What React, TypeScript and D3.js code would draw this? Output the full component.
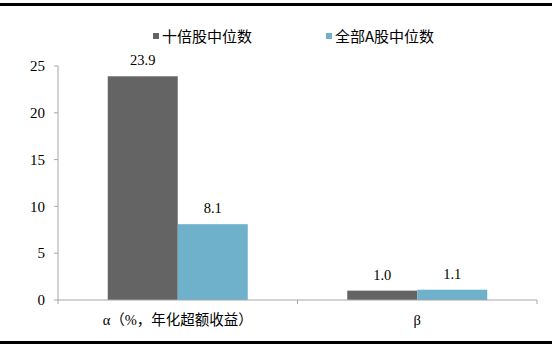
import * as d3 from "d3"

const categories = ["α（%，年化超额收益）", "β"]
const seriesNames = ["十倍股中位数", "全部A股中位数"]
const tenBagger = [23.9, 1.0]
const allA = [8.1, 1.1]
const yTicks = [0, 5, 10, 15, 20, 25]

const COLORS = ["#646464", "#6fb0cb"]
const AXIS = "#a6a6a6"
const SERIF = "Liberation Serif, DejaVu Serif, Noto Sans CJK SC, serif"
const CJK = "Noto Sans CJK SC, sans-serif"

export default function App() {
  const W = 554, H = 351
  const m = { left: 58, right: 17, top: 66, bottom: 51 }
  const x = d3.scaleBand<string>().domain(categories).range([m.left, W - m.right])
  const inner = d3.scaleBand<number>().domain([0, 1]).range([0, 140])
  const y = d3.scaleLinear().domain([0, 25]).range([H - m.bottom, m.top])
  const series = [tenBagger, allA]
  const y0 = y(0)

  return (
    <svg width={W} height={H} style={{ position: "absolute", left: 0, top: 0, background: "#fff" }}>
      <rect x={0} y={3} width={552} height={3} fill="#000" />
      <rect x={0} y={341} width={552} height={3} fill="#000" />

      {/* legend */}
      {seriesNames.map((s, i) => {
        const lx = i === 0 ? 153 : 326
        return (
          <g key={s}>
            <rect x={lx} y={33} width={6} height={6} fill={COLORS[i]} />
            <text x={lx + 9} y={41.5} fontSize={15} style={{ fontFamily: CJK }} fill="#000">{s}</text>
          </g>
        )
      })}

      {/* y axis */}
      <line x1={m.left} x2={m.left} y1={y(25)} y2={y0} stroke={AXIS} />
      {yTicks.map(t => (
        <g key={t}>
          <line x1={m.left - 4} x2={m.left} y1={y(t)} y2={y(t)} stroke={AXIS} />
          <text x={45} y={y(t)} dy="0.35em" textAnchor="end" fontSize={15} style={{ fontFamily: SERIF }} fill="#000">{t}</text>
        </g>
      ))}

      {/* bars */}
      {categories.map((c, ci) => {
        const bx = x(c)! + (x.bandwidth() - 140) / 2
        return (
          <g key={c}>
            {series.map((vals, si) => {
              const v = vals[ci]
              const left = bx + inner(si)!
              return (
                <g key={si}>
                  <rect x={left} y={y(v)} width={inner.bandwidth()} height={y0 - y(v)} fill={COLORS[si]} />
                  <text x={left + inner.bandwidth() / 2} y={y(v) - 11} textAnchor="middle" fontSize={14.5} style={{ fontFamily: SERIF }} fill="#000">{v.toFixed(1)}</text>
                </g>
              )
            })}
            <text x={x(c)! + x.bandwidth() / 2} y={325} textAnchor="middle" fontSize={14.5} style={{ fontFamily: SERIF }} fill="#000">{c}</text>
          </g>
        )
      })}

      {/* x axis */}
      <line x1={m.left} x2={W - m.right} y1={y0} y2={y0} stroke={AXIS} />
      {[...categories.map(c => x(c)!), W - m.right].map((t, i) => (
        <line key={i} x1={t} x2={t} y1={y0} y2={y0 + 4} stroke={AXIS} />
      ))}
    </svg>
  )
}
